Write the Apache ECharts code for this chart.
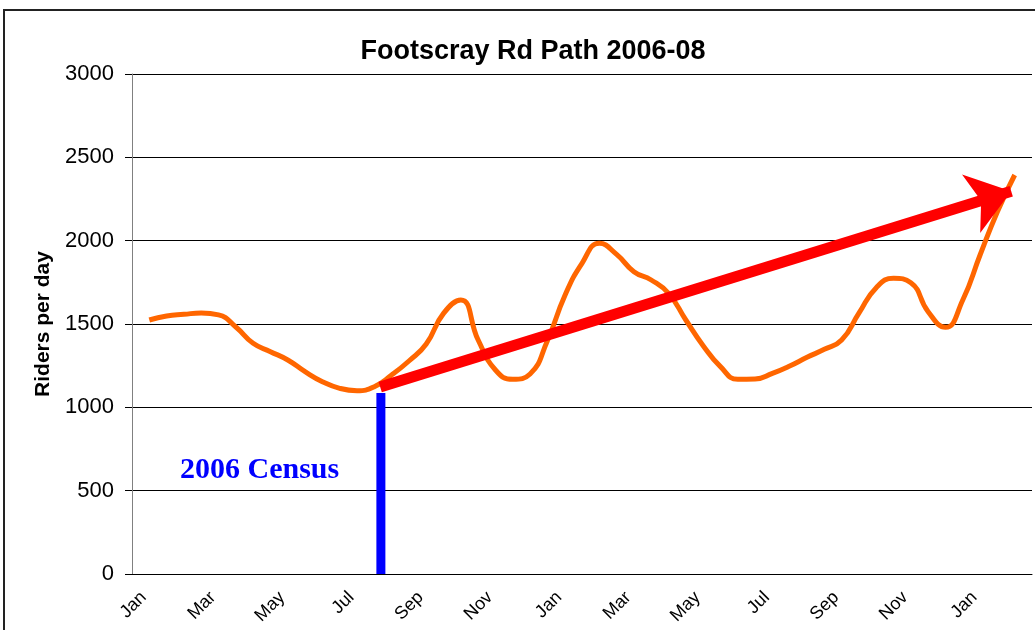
<!DOCTYPE html>
<html>
<head>
<meta charset="utf-8">
<title>Footscray Rd Path 2006-08</title>
<script src="https://cdn.jsdelivr.net/npm/echarts@6/dist/echarts.min.js"></script>
<style>
    html, body { margin: 0; padding: 0; background: #fff; }
    #chart { width: 1035px; height: 630px; }
</style>
</head>
<body>
<div id="chart"></div>
<script>
// month categories Jan 2006 .. Feb 2008
var months = ['Jan','Feb','Mar','Apr','May','Jun','Jul','Aug','Sep','Oct','Nov','Dec',
              'Jan','Feb','Mar','Apr','May','Jun','Jul','Aug','Sep','Oct','Nov','Dec',
              'Jan','Feb'];
// riders per day, read every half month from mid Jan 2006
var riders = [1524, 1548, 1558, 1566, 1555, 1482, 1384, 1334, 1284, 1214,
              1154, 1114, 1100, 1124, 1194, 1278, 1380, 1564, 1644, 1404,
              1224, 1168, 1200, 1400, 1668, 1864, 1984, 1918, 1814, 1764,
              1684, 1524, 1370, 1244, 1168, 1170, 1204, 1248, 1300, 1348,
              1404, 1565, 1718, 1774, 1748, 1574, 1480, 1644, 1914, 2174,
              2394];
// census marker and trend arrow (month position, riders)
var census = [7.19, 1086];
var trendFrom = [7.17, 1122];
var trendTo = [25.4, 2296];

$chart();

function $chart(){
    var chart = echarts.init(document.getElementById('chart'));
    var lineData = [];
    for (var i = 0; i < riders.length; i++) {
        lineData.push([0.5 + i * 0.5, riders[i]]);
    }
    var font = 'Liberation Sans, Arial, sans-serif';
    var option = {
        animation: false,
        title: {
            text: 'Footscray Rd Path 2006-08',
            left: 528,
            top: 33,
            textAlign: 'center',
            textStyle: {
                fontFamily: font,
                fontSize: 27,
                fontWeight: 'bold',
                color: '#000'
            }
        },
        grid: {
            left: 132,
            right: 3,
            top: 74,
            bottom: 56
        },
        graphic: [{
            type: 'rect',
            shape: { x: 4, y: 10, width: 1100, height: 700 },
            style: { fill: 'none', stroke: '#222', lineWidth: 2 }
        }, {
            type: 'text',
            left: 180,
            top: 455,
            style: {
                text: '2006 Census',
                fill: '#0000ff',
                font: 'bold 30px "Liberation Serif", "Times New Roman", serif'
            }
        }],
        xAxis: [{
            type: 'category',
            data: months,
            boundaryGap: true,
            axisLine: { lineStyle: { color: '#000' } },
            axisTick: { interval: 0, length: 5, lineStyle: { color: '#000' } },
            axisLabel: {
                interval: 1,
                rotate: 45,
                margin: 15,
                padding: [0, 8, 0, 0],
                fontFamily: font,
                fontSize: 18,
                color: '#000'
            },
            splitLine: { show: false }
        }, {
            type: 'value',
            min: 0,
            max: 26,
            show: false
        }],
        yAxis: {
            type: 'value',
            min: 0,
            max: 3000,
            interval: 500,
            name: 'Riders per day',
            nameLocation: 'middle',
            nameGap: 76,
            nameTextStyle: {
                fontFamily: font,
                fontSize: 21,
                fontWeight: 'bold',
                color: '#000'
            },
            axisLine: { show: true, lineStyle: { color: '#808080' } },
            axisTick: { show: true, length: 7, lineStyle: { color: '#000' } },
            axisLabel: {
                margin: 18,
                fontFamily: font,
                fontSize: 22,
                color: '#000',
                formatter: function(v){ return String(v); }
            },
            splitLine: { lineStyle: { color: '#000', width: 1 } }
        },
        series: [{
            name: 'Riders',
            type: 'line',
            xAxisIndex: 1,
            smooth: 0.5,
            symbol: 'none',
            z: 3,
            lineStyle: { color: '#ff6600', width: 5 },
            data: lineData
        }, {
            name: '2006 Census',
            type: 'line',
            xAxisIndex: 1,
            symbol: 'none',
            z: 4,
            lineStyle: { color: '#0000ff', width: 9, cap: 'butt' },
            data: [[census[0], 0], [census[0], census[1]]],
            markLine: {
                silent: true,
                symbol: ['none', 'arrow'],
                symbolSize: [46, 42],
                label: { show: false },
                lineStyle: { color: '#ff0000', width: 11, type: 'solid' },
                itemStyle: { color: '#ff0000' },
                data: [[{ coord: trendFrom }, { coord: trendTo }]]
            }
        }]
    };
    chart.setOption(option);
    window.addEventListener('resize', function(){
        chart.resize();
    });
}
</script>
</body>
</html>
